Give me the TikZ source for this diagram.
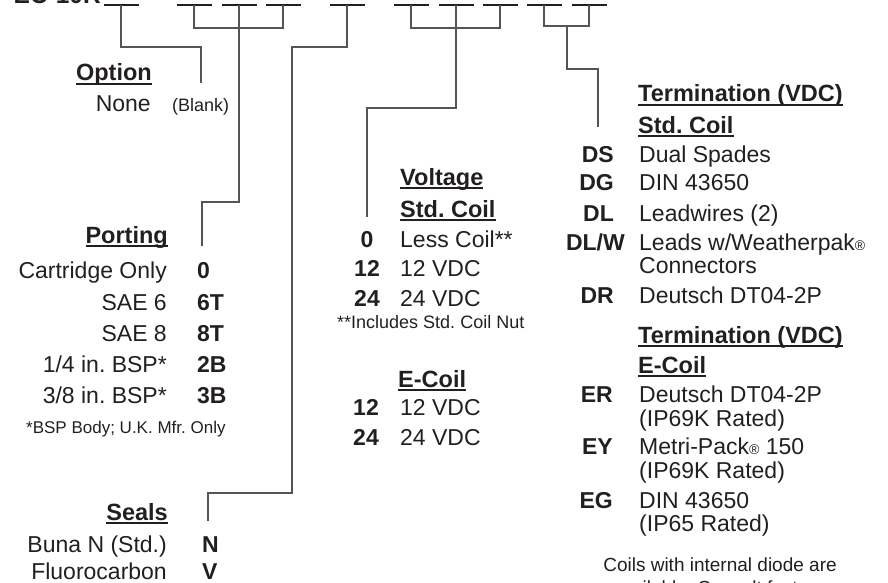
\documentclass[tikz,border=0pt]{standalone}
\usepackage{fontspec}
\setmainfont{Liberation Sans}
\frenchspacing
\definecolor{ink}{HTML}{231F20}
\definecolor{lc}{HTML}{555555}
\newcommand\ulhd[1]{\setbox0\hbox{#1}\rlap{\rule[-4pt]{\wd0}{1.6pt}}\box0}
\begin{document}
\begin{tikzpicture}[x=1pt,y=-1pt,
  txt/.style={inner sep=0pt, text=ink, font=\fontsize{23}{27}\selectfont},
  hd/.style={inner sep=0pt, text=ink, font=\bfseries\fontsize{23.5}{27}\selectfont},
  code/.style={inner sep=0pt, text=ink, font=\bfseries\fontsize{23}{27}\selectfont},
  note/.style={inner sep=0pt, text=ink, font=\fontsize{17}{20}\selectfont},
  ttl/.style={inner sep=0pt, text=ink, font=\bfseries\fontsize{24.5}{28}\selectfont},
  ln/.style={draw=lc, line width=1.5pt},
  blank/.style={draw=ink, line width=2pt}]
\useasboundingbox (0,0) rectangle (888,583);
\clip (0,0) rectangle (888,583);

% title and blanks
\node[ttl, anchor=base east] (title) at (101,4) {EC-10R};
\coordinate (b1) at (121,5);
\coordinate (b2) at (194,5);
\coordinate (b3) at (239,5);
\coordinate (b4) at (283,5);
\coordinate (b5) at (347,5);
\coordinate (b6) at (411,5);
\coordinate (b7) at (456,5);
\coordinate (b8) at (500,5);
\coordinate (b9) at (544,5);
\coordinate (b10) at (589,5);
\foreach \b in {b1,b2,b3,b4,b5,b6,b7,b8,b9,b10}
  \draw[blank] ([xshift=-17.5pt]\b) -- ([xshift=17.5pt]\b);

% junction coordinates
\coordinate (o1) at (121,47);  \coordinate (o2) at (201,47);  \coordinate (oe) at (201,83);
\coordinate (p2) at (194,28);  \coordinate (p4) at (283,28);
\coordinate (p3) at (239,202); \coordinate (p5) at (202,202); \coordinate (pe) at (202,246);
\coordinate (s1) at (347,47);  \coordinate (s2) at (292,47);  \coordinate (s3) at (292,493);
\coordinate (s4) at (208,493); \coordinate (se) at (208,521);
\coordinate (v6) at (411,28);  \coordinate (v8) at (500,28);
\coordinate (v7) at (456,108); \coordinate (v9) at (367,108); \coordinate (ve) at (367,217);
\coordinate (t9) at (544,26);  \coordinate (t10) at (589,26); \coordinate (tm) at (567,26);
\coordinate (t1) at (567,69);  \coordinate (t2) at (598,69);  \coordinate (te) at (598,127);

% connectors
\draw[ln] (b1) -- (o1) -- (o2) -- (oe);
\draw[ln] (b2) -- (p2) -- (p4) -- (b4);
\draw[ln] (b3) -- (p3) -- (p5) -- (pe);
\draw[ln] (b5) -- (s1) -- (s2) -- (s3) -- (s4) -- (se);
\draw[ln] (b6) -- (v6) -- (v8) -- (b8);
\draw[ln] (b7) -- (v7) -- (v9) -- (ve);
\draw[ln] (b9) -- (t9) -- (t10) -- (b10);
\draw[ln] (tm) -- (t1) -- (t2) -- (te);

% Option
\node[hd, anchor=base east] (opth) at (152,81) {\ulhd{Option}};
\node[txt, anchor=base east] (optnone) at (151,112) {None};
\node[inner sep=0pt, text=ink, font=\fontsize{18}{21}\selectfont, anchor=base west] (optblank) at (172,112) {(Blank)};

% Porting
\node[hd, anchor=base east] (porth) at (168,243) {\ulhd{Porting}};
\node[txt, anchor=base east] (pd1) at (167,278) {Cartridge Only};
\node[txt, anchor=base east] (pd2) at (167,310) {SAE 6};
\node[txt, anchor=base east] (pd3) at (167,341) {SAE 8};
\node[txt, anchor=base east] (pd4) at (167,372) {1/4 in. BSP*};
\node[txt, anchor=base east] (pd5) at (167,403) {3/8 in. BSP*};
\node[code, anchor=base west] (pc1) at (197,278) {0};
\node[code, anchor=base west] (pc2) at (197,310) {6T};
\node[code, anchor=base west] (pc3) at (197,341) {8T};
\node[code, anchor=base west] (pc4) at (197,372) {2B};
\node[code, anchor=base west] (pc5) at (197,403) {3B};
\node[note, anchor=base west] (pnote) at (26,433) {*BSP Body; U.K. Mfr. Only};

% Seals
\node[hd, anchor=base east] (sealh) at (168,520) {\ulhd{Seals}};
\node[txt, anchor=base east] (sd1) at (167,552) {Buna N (Std.)};
\node[txt, anchor=base east] (sd2) at (167,579.5) {Fluorocarbon};
\node[code, anchor=base west] (sc1) at (202,552) {N};
\node[code, anchor=base west] (sc2) at (202,579.5) {V};

% Voltage
\node[hd, anchor=base west] (volth) at (400,185) {\ulhd{Voltage}};
\node[hd, anchor=base west] (voltstd) at (400,217) {\ulhd{Std. Coil}};
\node[txt, anchor=base west] (vd1) at (400,247) {Less Coil**};
\node[txt, anchor=base west] (vd2) at (400,276) {12 VDC};
\node[txt, anchor=base west] (vd3) at (400,306) {24 VDC};
\node[code, anchor=base] (vc1) at (367,247) {0};
\node[code, anchor=base] (vc2) at (367,276) {12};
\node[code, anchor=base] (vc3) at (367,306) {24};
\node[note, anchor=base west, font=\fontsize{18}{21}\selectfont] (vnote) at (337,328) {**Includes Std. Coil Nut};
\node[hd, anchor=base west] (ecoilh) at (398,387) {\ulhd{E-Coil}};
\node[txt, anchor=base west] (ed1) at (400,415) {12 VDC};
\node[txt, anchor=base west] (ed2) at (400,445) {24 VDC};
\node[code, anchor=base] (ec1) at (366,415) {12};
\node[code, anchor=base] (ec2) at (366,445) {24};

% Termination std coil
\node[hd, anchor=base west] (termh) at (638,102) {\ulhd{Termination (VDC)}};
\node[hd, anchor=base west] (termstd) at (638,133) {\ulhd{Std. Coil}};
\node[code, anchor=base east] (tc1) at (614,162) {DS};
\node[code, anchor=base east] (tc2) at (614,190) {DG};
\node[code, anchor=base east] (tc3) at (614,221) {DL};
\node[code, anchor=base east] (tc4) at (625,250) {DL/W};
\node[code, anchor=base east] (tc5) at (614,303) {DR};
\node[txt, anchor=base west] (td1) at (639,162) {Dual Spades};
\node[txt, anchor=base west] (td2) at (639,190) {DIN 43650};
\node[txt, anchor=base west] (td3) at (639,221) {Leadwires (2)};
\node[txt, anchor=base west] (td4) at (639,250) {Leads w/Weatherpak{\fontsize{14}{14}\selectfont ®}};
\node[txt, anchor=base west] (td4b) at (639,273) {Connectors};
\node[txt, anchor=base west] (td5) at (639,303) {Deutsch DT04-2P};

% Termination E-coil
\node[hd, anchor=base west] (term2h) at (638,343) {\ulhd{Termination (VDC)}};
\node[hd, anchor=base west] (termec) at (638,373) {\ulhd{E-Coil}};
\node[code, anchor=base east] (tc6) at (613,402) {ER};
\node[code, anchor=base east] (tc7) at (613,454) {EY};
\node[code, anchor=base east] (tc8) at (613,508) {EG};
\node[txt, anchor=base west] (td6) at (639,402) {Deutsch DT04-2P};
\node[txt, anchor=base west] (td6b) at (639,426) {(IP69K Rated)};
\node[txt, anchor=base west] (td7) at (639,454) {Metri-Pack{\fontsize{14}{14}\selectfont ®} 150};
\node[txt, anchor=base west] (td7b) at (639,478) {(IP69K Rated)};
\node[txt, anchor=base west] (td8) at (639,508) {DIN 43650};
\node[txt, anchor=base west] (td8b) at (639,531) {(IP65 Rated)};
\node[inner sep=0pt, text=ink, font=\fontsize{19}{22}\selectfont, anchor=base] (coils1) at (720,571) {Coils with internal diode are};
\node[inner sep=0pt, text=ink, font=\fontsize{19}{22}\selectfont, anchor=base] (coils2) at (720,594) {available. Consult factory.};
\end{tikzpicture}
\end{document}
